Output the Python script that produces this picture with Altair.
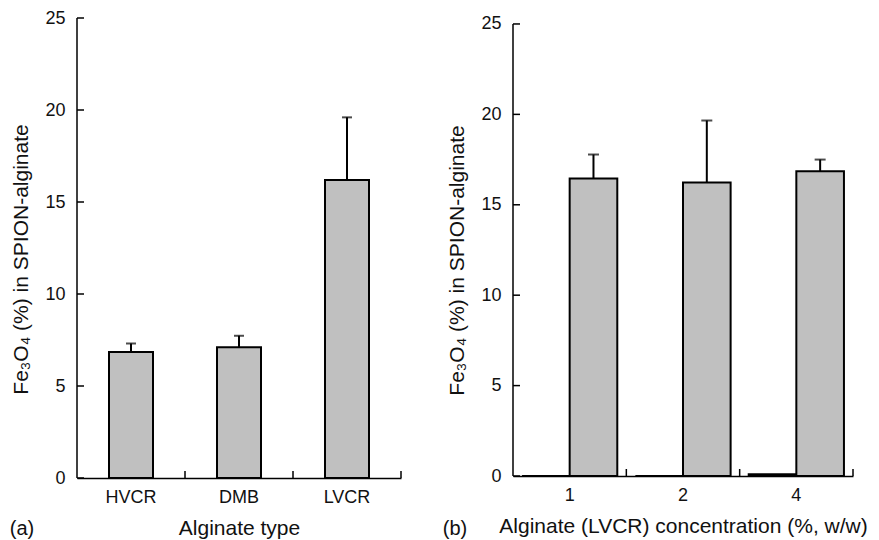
import altair as alt
import pandas as pd

# ---- data ----
types = ["HVCR", "DMB", "LVCR"]
type_mean = [6.85, 7.10, 16.20]
type_err = [0.46, 0.63, 3.40]

conc = ["1", "2", "4"]
conc_mean = [16.46, 16.23, 16.85]
conc_err = [1.32, 3.43, 0.65]
conc_zero = [0.0, 0.0, 0.1]

y_ticks = [0, 5, 10, 15, 20, 25]

FONT = "Liberation Sans"
GREY = "#c0c0c0"
YTITLE = "Fe\u2083O\u2084 (%) in SPION-alginate"

df_a = pd.DataFrame({"cat": types, "mean": type_mean,
                     "top": [m + e for m, e in zip(type_mean, type_err)]})
rows_b = []
for c, z, m, e in zip(conc, conc_zero, conc_mean, conc_err):
    rows_b.append({"cat": c, "series": "zero", "mean": z, "top": z})
    rows_b.append({"cat": c, "series": "value", "mean": m, "top": m + e})
df_b = pd.DataFrame(rows_b)
df_bv = df_b[df_b["series"] == "value"]
df_ticks = pd.DataFrame({"t": y_ticks})
df_dom = pd.DataFrame({"lo": [min(y_ticks)], "hi": [max(y_ticks)]})


def offs():
    return alt.XOffset("series:N", sort=["zero", "value"],
                       scale=alt.Scale(paddingInner=0, paddingOuter=0.19))


def panel(df, df_err, cats, W, H, ymax, xtitle, ytitle_y, tag, tag_x, tag_y, grouped):
    def yscale():
        return alt.Scale(domain=[0, ymax], nice=False, zero=True)

    xs = alt.Scale(domain=cats, paddingInner=0, paddingOuter=0)
    xaxis = alt.Axis(title=xtitle, labelAngle=0, ticks=False, labelPadding=10,
                     titlePadding=11, labelFontSize=18, titleFontSize=21,
                     labelFont=FONT, titleFont=FONT, labelColor="#111",
                     titleColor="#111", titleFontWeight="normal",
                     domainColor="black", domainWidth=1.5)
    yaxis = alt.Axis(title=YTITLE, values=y_ticks, ticks=False, grid=False,
                     domain=False,
                     labelPadding=12, titlePadding=13, labelFontSize=18,
                     titleFontSize=21, labelFont=FONT, titleFont=FONT,
                     labelColor="#111", titleColor="#111",
                     titleFontWeight="normal", titleY=ytitle_y)
    base = alt.Chart(df)
    if grouped:
        bars = base.mark_bar(fill=GREY, stroke="black", strokeWidth=2).encode(
            x=alt.X("cat:N", scale=xs, axis=xaxis, sort=cats),
            xOffset=offs(),
            y=alt.Y("mean:Q", scale=yscale(), axis=yaxis),
        )
        err = alt.Chart(df_err).mark_rule(color="black", strokeWidth=2).encode(
            x=alt.X("cat:N", scale=xs, sort=cats),
            xOffset=offs(),
            y=alt.Y("mean:Q", scale=yscale()),
            y2="top:Q",
        )
        cap = alt.Chart(df_err).mark_tick(color="black", thickness=2, size=11).encode(
            x=alt.X("cat:N", scale=xs, sort=cats),
            xOffset=offs(),
            y=alt.Y("top:Q", scale=yscale()),
        )
    else:
        bars = base.mark_bar(fill=GREY, stroke="black", strokeWidth=2, width=44).encode(
            x=alt.X("cat:N", scale=xs, axis=xaxis, sort=cats),
            y=alt.Y("mean:Q", scale=yscale(), axis=yaxis),
        )
        err = base.mark_rule(color="black", strokeWidth=2).encode(
            x=alt.X("cat:N", scale=xs, sort=cats),
            y=alt.Y("mean:Q", scale=yscale()),
            y2="top:Q",
        )
        cap = base.mark_tick(color="black", thickness=2, size=10).encode(
            x=alt.X("cat:N", scale=xs, sort=cats),
            y=alt.Y("top:Q", scale=yscale()),
        )
    ydom = alt.Chart(df_dom).mark_rule(color="black", strokeWidth=1.5).encode(
        y=alt.Y("lo:Q", scale=yscale()), y2="hi:Q", x=alt.value(0),
    )
    yt = alt.Chart(df_ticks).mark_rule(color="black", strokeWidth=1.5).encode(
        y=alt.Y("t:Q", scale=yscale()),
        x=alt.value(0), x2=alt.value(7),
    )
    xt = alt.Chart(pd.DataFrame({"cat": cats})).mark_rule(color="black", strokeWidth=1.5).encode(
        x=alt.X("cat:N", scale=xs, sort=cats, bandPosition=1),
        y=alt.value(H - 7), y2=alt.value(H),
    )
    lab = alt.Chart(pd.DataFrame({"tag": [tag]})).mark_text(
        font=FONT, fontSize=20, color="#111", align="center", baseline="middle"
    ).encode(text="tag:N", x=alt.value(tag_x), y=alt.value(tag_y))
    return alt.layer(bars, err, cap, ydom, yt, xt, lab).properties(width=W, height=H)


left = panel(df_a, df_a, types, 324, 460, 25, "Alginate type", 241,
             "(a)", -55, 511, False)
right = panel(df_b, df_bv, conc, 340, 458, 25.33,
              "Alginate (LVCR) concentration (%, w/w)", 242,
              "(b)", -58, 511, True)

chart = alt.hconcat(left, right, spacing=40).properties(
    padding={"left": 9, "top": 9, "right": 0, "bottom": 0},
    background="white",
).configure_view(strokeWidth=0)

chart.save("out.html", embed_options={"renderer": "svg", "actions": False})
